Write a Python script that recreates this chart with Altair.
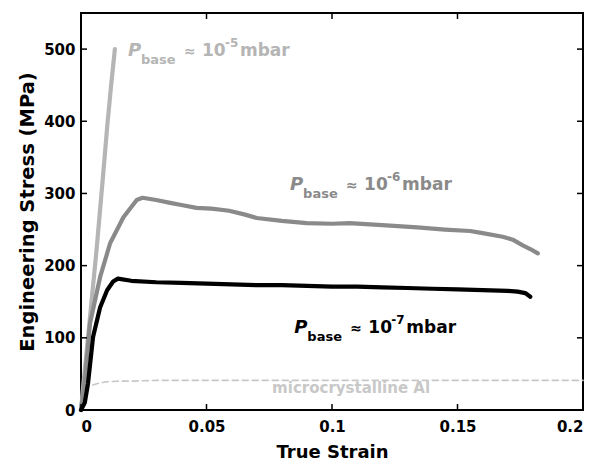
import altair as alt
import pandas as pd

# ---- data ----
black_x = [0, 0.0015, 0.0028, 0.0048, 0.0076, 0.0104, 0.0128, 0.0147, 0.02, 0.03, 0.04, 0.05, 0.06,
           0.07, 0.08, 0.09, 0.1, 0.11, 0.12, 0.13, 0.14, 0.15, 0.16, 0.17, 0.174, 0.177, 0.179]
black_y = [0, 10, 37, 101, 142, 166, 178, 182, 179, 177, 176, 175, 174,
           173, 173, 172, 171, 171, 170, 169, 168, 167, 166, 165, 164, 162, 157]

gray_x = [0, 0.0015, 0.0036, 0.0076, 0.0116, 0.0169, 0.0222, 0.0245, 0.03, 0.0355, 0.04, 0.046,
          0.052, 0.059, 0.065, 0.07, 0.08, 0.09, 0.1, 0.107, 0.12, 0.134, 0.145, 0.155, 0.16,
          0.168, 0.172, 0.176, 0.179, 0.182]
gray_y = [0, 40, 120, 184, 231, 267, 291, 294, 291, 287, 284, 280,
          279, 276, 271, 266, 262, 259, 258, 259, 256, 253, 250, 248, 245,
          240, 236, 228, 223, 217]

light_x = [0, 0.001, 0.0036, 0.0062, 0.0088, 0.0105, 0.012, 0.0135]
light_y = [0, 37, 129, 222, 325, 395, 450, 500]

al_x = [0, 0.0005, 0.001, 0.002, 0.004, 0.007, 0.01, 0.015, 0.02, 0.03, 0.05, 0.1, 0.15, 0.2]
al_y = [0, 15, 24, 30, 34, 37, 39, 40, 40, 41, 41, 41, 41, 41]

x_ticks = [0, 0.05, 0.1, 0.15, 0.2]
y_ticks = [0, 100, 200, 300, 400, 500]

label_exp = ["-5", "-6", "-7"]
label_x = [0.0187, 0.0833, 0.085]
label_y = [490, 305, 106]
label_col = ["#b5b5b5", "#8a8a8a", "#000000"]

al_label = "microcrystalline Al"
al_label_x = 0.1076
al_label_y = 23

W, H = 502, 397
FONT = "DejaVu Sans"

xs = alt.Scale(domain=[0, 0.2], nice=False)
ys = alt.Scale(domain=[0, 550], nice=False)

def curve(xv, yv, color, width, dash=None):
    df = pd.DataFrame({"x": xv, "y": yv, "i": range(len(xv))})
    kw = dict(color=color, strokeWidth=width, strokeCap="round", strokeJoin="round")
    if dash:
        kw["strokeDash"] = dash
    return alt.Chart(df).mark_line(**kw).encode(
        x=alt.X("x:Q", scale=xs), y=alt.Y("y:Q", scale=ys), order="i:Q")

al_line = curve(al_x, al_y, "#c8c8c8", 1.6, [6, 4])
light = curve(light_x, light_y, "#b5b5b5", 4.2)
gray = curve(gray_x, gray_y, "#8a8a8a", 4.2)
black = curve(black_x, black_y, "#000000", 4.2)

lab = pd.DataFrame({"x": label_x, "y": label_y, "e": label_exp, "c": label_col})
col = alt.Color("c:N", scale=None)

def piece(text_field, dx, dy, size, style="normal", const=None):
    kw = dict(align="left", baseline="alphabetic", font=FONT, fontWeight="bold",
              fontSize=size, fontStyle=style, dx=dx, dy=dy)
    if const is not None:
        kw["text"] = const
    ch = alt.Chart(lab).mark_text(**kw).encode(
        x=alt.X("x:Q", scale=xs), y=alt.Y("y:Q", scale=ys), color=col)
    if const is None:
        ch = ch.encode(text=text_field)
    return ch

p_P = piece(None, 0, 0, 18, "italic", "P")
p_base = piece(None, 13, 8, 13, "normal", "base")
p_approx = piece(None, 56, 0, 14, "normal", "≈")
p_10 = piece(None, 74, 0, 17, "normal", "10")
p_exp = piece("e:N", 97, -9, 12)
p_mbar = piece(None, 112, 0, 17, "normal", "mbar")

al_txt = alt.Chart(pd.DataFrame({"x": [al_label_x], "y": [al_label_y], "t": [al_label]})).mark_text(
    align="center", baseline="alphabetic", font=FONT, fontWeight="bold", fontSize=15,
    color="#c8c8c8").encode(x=alt.X("x:Q", scale=xs), y=alt.Y("y:Q", scale=ys), text="t:N")

# inward ticks (MATLAB style)
xt = pd.DataFrame({"x": x_ticks})
yt = pd.DataFrame({"y": y_ticks})
TL = 6
xb = alt.Chart(xt).mark_rule(color="black", strokeWidth=1.5).encode(
    x=alt.X("x:Q", scale=xs), y=alt.value(H), y2=alt.value(H - TL))
xtp = alt.Chart(xt).mark_rule(color="black", strokeWidth=1.5).encode(
    x=alt.X("x:Q", scale=xs), y=alt.value(0), y2=alt.value(TL))
yl = alt.Chart(yt).mark_rule(color="black", strokeWidth=1.5).encode(
    y=alt.Y("y:Q", scale=ys), x=alt.value(0), x2=alt.value(TL))
yr = alt.Chart(yt).mark_rule(color="black", strokeWidth=1.5).encode(
    y=alt.Y("y:Q", scale=ys), x=alt.value(W), x2=alt.value(W - TL))

# axes layer
axes = alt.Chart(pd.DataFrame({"x": [0], "y": [0]})).mark_point(opacity=0).encode(
    x=alt.X("x:Q", scale=xs, title="True Strain",
            axis=alt.Axis(values=x_ticks, format="~g", tickSize=0, domain=False, grid=False,
                          labelPadding=9, titlePadding=9, titleFontSize=18)),
    y=alt.Y("y:Q", scale=ys, title="Engineering Stress (MPa)",
            axis=alt.Axis(values=y_ticks, tickSize=0, domain=False, grid=False,
                          labelPadding=6, titlePadding=6, titleFontSize=19.5)),
)

chart = alt.layer(axes, al_line, light, gray, black, al_txt,
                  p_P, p_base, p_approx, p_10, p_exp, p_mbar,
                  xb, xtp, yl, yr).properties(
    width=W, height=H,
    background="white",
    autosize=alt.AutoSizeParams(type="none"),
    padding={"left": 73, "top": 5, "right": 4, "bottom": 55},
).configure_view(stroke="black", strokeWidth=2).configure_axis(
    labelFont=FONT, labelFontWeight="bold", labelFontSize=15, labelColor="black",
    titleFont=FONT, titleFontWeight="bold", titleColor="black",
)

chart.save("out.html", embed_options={"renderer": "svg", "actions": False})
